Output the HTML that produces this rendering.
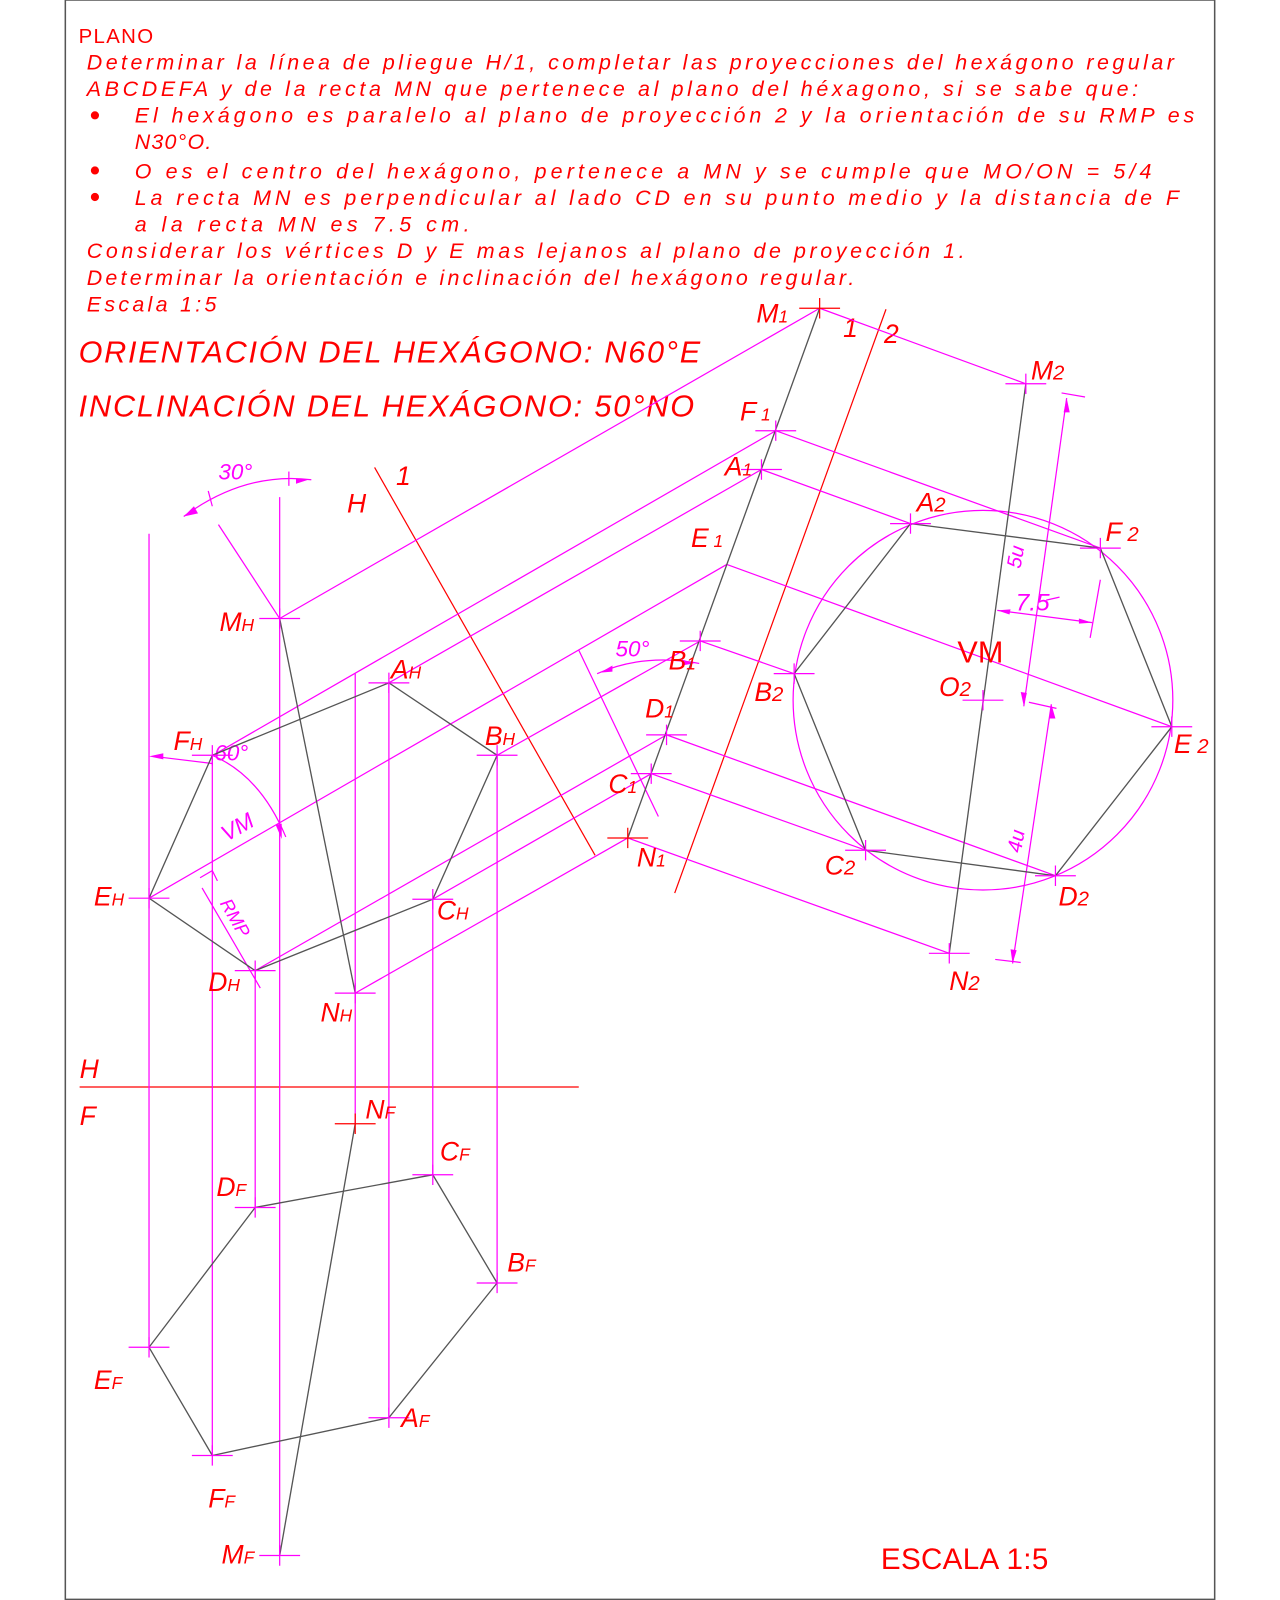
<!DOCTYPE html>
<html><head><meta charset="utf-8"><style>
html,body{margin:0;padding:0;background:#fff;}
svg{display:block;}
text{font-family:"Liberation Sans",sans-serif;font-style:italic;fill:#ff0000;}
.m{stroke:#ff00ff;stroke-width:1.2;fill:none;}
.r{stroke:#ff0000;stroke-width:1.2;fill:none;}
.g{stroke:#555;stroke-width:1.3;fill:none;}
.mt{fill:#ff00ff;}
</style></head><body>
<svg width="1280" height="1600" viewBox="0 0 1254 1567.6" preserveAspectRatio="none" xmlns="http://www.w3.org/2000/svg">
<rect x="64" y="0" width="1126" height="1567" fill="none" stroke="#555" stroke-width="1.5"/>

<!-- header text -->
<text x="77" y="42" font-size="20" style="font-style:normal" textLength="73">PLANO</text>
<g font-size="21">
<text x="85" y="68" textLength="1065">Determinar la línea de pliegue H/1, completar las proyecciones del hexágono regular</text>
<text x="85" y="94" textLength="1030">ABCDEFA y de la recta MN que pertenece al plano del héxagono, si se sabe que:</text>
<text x="132" y="120" textLength="1038">El hexágono es paralelo al plano de proyección 2 y la orientación de su RMP   es</text>
<text x="132" y="146" textLength="75">N30°O.</text>
<text x="132" y="175" textLength="996">O es el centro del hexágono, pertenece a MN y se cumple que MO/ON = 5/4</text>
<text x="132" y="201" textLength="1023">La recta MN es perpendicular al lado CD en su punto medio y la distancia de F</text>
<text x="132" y="227" textLength="328">a la recta MN es 7.5 cm.</text>
<text x="85" y="253" textLength="860">Considerar los vértices D y E mas lejanos al plano de proyección 1.</text>
<text x="85" y="279" textLength="752">Determinar la orientación e inclinación del hexágono regular.</text>
<text x="85" y="305" textLength="127">Escala 1:5</text>
</g>
<circle cx="93" cy="113" r="4" fill="#f00"/>
<circle cx="93" cy="167" r="4" fill="#f00"/>
<circle cx="93" cy="193" r="4" fill="#f00"/>
<text x="77" y="355" font-size="30" textLength="609">ORIENTACIÓN DEL HEXÁGONO: N60°E</text>
<text x="77" y="408" font-size="30" textLength="603">INCLINACIÓN DEL HEXÁGONO: 50°NO</text>
<text x="863" y="1537" font-size="29" style="font-style:normal" textLength="164">ESCALA 1:5</text>

<!-- fold lines -->
<line class="r" x1="78" y1="1065" x2="567" y2="1065"/>
<text x="78" y="1056" font-size="26">H</text>
<text x="78" y="1102" font-size="26">F</text>
<line class="r" x1="367" y1="458" x2="583" y2="838"/>
<text x="340" y="502" font-size="26">H</text>
<text x="388" y="475" font-size="26">1</text>
<line class="r" x1="868" y1="303" x2="661" y2="875"/>
<text x="826" y="330" font-size="26">1</text>
<text x="866" y="336" font-size="26">2</text>

<!-- vertical projectors -->
<g class="m">
<line x1="146" y1="523" x2="146" y2="1320"/>
<line x1="208" y1="740" x2="208" y2="1426"/>
<line x1="250" y1="951" x2="250" y2="1183"/>
<line x1="274" y1="487" x2="274" y2="1524"/>
<line x1="348" y1="660" x2="348" y2="1101"/>
<line x1="381" y1="669" x2="381" y2="1389"/>
<line x1="424" y1="881" x2="424" y2="1151"/>
<line x1="487" y1="740" x2="487" y2="1257"/>
<!-- H to 1 projectors -->
<line x1="274" y1="606" x2="803" y2="302"/>
<line x1="212" y1="738" x2="760" y2="422"/>
<line x1="381" y1="669" x2="746" y2="460"/>
<line x1="146" y1="880" x2="712" y2="553"/>
<line x1="487" y1="740" x2="686" y2="628"/>
<line x1="250" y1="951" x2="653" y2="720"/>
<line x1="424" y1="881" x2="638" y2="758"/>
<line x1="348" y1="973" x2="615" y2="821"/>
<!-- 1 to 2 projectors -->
<line x1="803" y1="302" x2="1005" y2="376"/>
<line x1="760" y1="422" x2="1078" y2="537"/>
<line x1="746" y1="460" x2="892" y2="513"/>
<line x1="712" y1="553" x2="1148" y2="712"/>
<line x1="686" y1="628" x2="778" y2="660"/>
<line x1="653" y1="720" x2="1034" y2="858"/>
<line x1="638" y1="758" x2="848" y2="833"/>
<line x1="615" y1="821" x2="930" y2="934"/>
<!-- circle -->
<circle cx="963" cy="686" r="186"/>
<!-- RMP / angles top view -->
<line x1="274" y1="606" x2="214" y2="514"/>
<path d="M180,506 Q240,462 305,470"/>
<line x1="204" y1="481" x2="208" y2="496"/>
<line x1="283" y1="462" x2="283" y2="476"/>
<line x1="198" y1="870" x2="255" y2="968"/>
<path d="M196,860 L208,853 L213,863"/>
<path d="M208,740 Q255,760 280,820"/>
<line x1="150" y1="741" x2="208" y2="748"/>
<!-- 50 deg -->
<line x1="567" y1="637" x2="645" y2="800"/>
<path d="M585,660 Q630,640 685,650"/>
<!-- dimension lines aux 2 -->
<line x1="1045" y1="390" x2="1003" y2="692"/>
<line x1="1008" y1="688" x2="1035" y2="694"/>
<line x1="1030" y1="690" x2="992" y2="944"/>
<line x1="975" y1="940" x2="1000" y2="943"/>
<line x1="1040" y1="385" x2="1063" y2="389"/>
<line x1="977" y1="598" x2="1070" y2="610"/>
<line x1="1078" y1="568" x2="1068" y2="625"/>
<line x1="1025" y1="588" x2="1038" y2="585"/>
</g>
<g class="mt">
<polygon points="180,506 190,496 194,503"/>
<polygon points="290,469 302,470 290,474"/>
<polygon points="146,741 160,738 160,744"/>
<polygon points="276,822 270,808 276,807"/>
<polygon points="588,659 600,652 600,658"/>
<polygon points="680,650 668,646 668,652"/>
<polygon points="1045,390 1042,404 1048,404"/>
<polygon points="1003,692 1000,678 1006,679"/>
<polygon points="1030,690 1028,704 1034,704"/>
<polygon points="992,944 990,930 996,931"/>
<polygon points="977,598 990,597 989,602"/>
<polygon points="1070,610 1057,606 1057,611"/>
</g>
<g font-size="22" class="mt" style="fill:#ff00ff">
<text x="214" y="470" style="fill:#ff00ff">30°</text>
<text x="210" y="745" style="fill:#ff00ff">60°</text>
<text x="222" y="825" style="fill:#ff00ff;" transform="rotate(-30 222 825)">VM</text>
<text x="215" y="885" font-size="18" style="fill:#ff00ff;" transform="rotate(60 215 885)">RMP</text>
<text x="603" y="643" style="fill:#ff00ff">50°</text>
<text x="995" y="528" font-size="20" style="fill:#ff00ff" transform="rotate(-80 1015 540)">5u</text>
<text x="985" y="832" font-size="20" style="fill:#ff00ff" transform="rotate(-80 995 825)">4u</text>
<text x="995" y="598" font-size="24" style="fill:#ff00ff">7.5</text>
</g>

<!-- gray geometry -->
<g class="g">
<polygon points="208,740 381,669 487,740 424,881 250,951 146,880"/>
<line x1="274" y1="606" x2="348" y2="973"/>
<polygon points="250,1183 424,1151 487,1257 381,1389 208,1426 146,1320"/>
<line x1="348" y1="1101" x2="274" y2="1524"/>
<line x1="803" y1="302" x2="615" y2="821"/>
<polygon points="892,513 1078,537 1148,712 1034,858 848,833 778,660"/>
<line x1="1005" y1="376" x2="930" y2="934"/>
</g>

<!-- crosses -->
<g class="m">
<path d="M254,606h40M274,596v20 M361,669h40M381,659v20 M467,740h40M487,730v20 M404,881h40M424,871v20 M230,951h40M250,941v20 M126,880h40M146,870v20 M188,740h40M208,730v20 M328,973h40M348,963v20"/>
<path d="M230,1183h40M250,1173v20 M404,1151h40M424,1141v20 M467,1257h40M487,1247v20 M361,1389h40M381,1379v20 M188,1426h40M208,1416v20 M126,1320h40M146,1310v20 M254,1524h40M274,1514v20"/>
<path d="M740,422h40M760,412v20 M726,460h40M746,450v20 M666,628h40M686,618v20 M633,720h40M653,710v20 M618,758h40M638,748v20"/>
<path d="M872,513h40M892,503v20 M1058,537h40M1078,527v20 M1128,712h40M1148,702v20 M758,660h40M778,650v20 M828,833h40M848,823v20 M1014,858h40M1034,848v20 M910,934h40M930,924v20 M985,376h40M1005,366v20 M943,686h40M963,676v20"/>
</g>
<g class="r"><path d="M783,302h40M803,292v20 M595,821h40M615,811v20 M328,1101h40M348,1091v20"/></g>

<!-- labels -->
<g font-size="26">
<text x="215" y="618">M<tspan font-size="17">H</tspan></text>
<text x="383" y="665">A<tspan font-size="17">H</tspan></text>
<text x="475" y="730">B<tspan font-size="17">H</tspan></text>
<text x="170" y="735">F<tspan font-size="17">H</tspan></text>
<text x="92" y="887">E<tspan font-size="17">H</tspan></text>
<text x="428" y="901">C<tspan font-size="17">H</tspan></text>
<text x="204" y="971">D<tspan font-size="17">H</tspan></text>
<text x="314" y="1001">N<tspan font-size="17">H</tspan></text>
<text x="358" y="1096">N<tspan font-size="17">F</tspan></text>
<text x="431" y="1137">C<tspan font-size="17">F</tspan></text>
<text x="212" y="1172">D<tspan font-size="17">F</tspan></text>
<text x="497" y="1246">B<tspan font-size="17">F</tspan></text>
<text x="92" y="1361">E<tspan font-size="17">F</tspan></text>
<text x="393" y="1398">A<tspan font-size="17">F</tspan></text>
<text x="204" y="1477">F<tspan font-size="17">F</tspan></text>
<text x="217" y="1532">M<tspan font-size="17">F</tspan></text>
<text x="741" y="316">M<tspan font-size="17">1</tspan></text>
<text x="725" y="412">F<tspan font-size="17"> 1</tspan></text>
<text x="710" y="466">A<tspan font-size="17">1</tspan></text>
<text x="677" y="536">E<tspan font-size="17"> 1</tspan></text>
<text x="655" y="656">B<tspan font-size="17">1</tspan></text>
<text x="632" y="703">D<tspan font-size="17">1</tspan></text>
<text x="596" y="777">C<tspan font-size="17">1</tspan></text>
<text x="624" y="849">N<tspan font-size="17">1</tspan></text>
<text x="1010" y="372">M<tspan font-size="20">2</tspan></text>
<text x="898" y="501">A<tspan font-size="20">2</tspan></text>
<text x="1083" y="530">F<tspan font-size="20"> 2</tspan></text>
<text x="739" y="687">B<tspan font-size="20">2</tspan></text>
<text x="920" y="682">O<tspan font-size="20">2</tspan></text>
<text x="938" y="649" style="font-style:normal" font-size="30">VM</text>
<text x="1150" y="738">E<tspan font-size="20"> 2</tspan></text>
<text x="808" y="857">C<tspan font-size="20">2</tspan></text>
<text x="1037" y="887">D<tspan font-size="20">2</tspan></text>
<text x="930" y="970">N<tspan font-size="20">2</tspan></text>
</g>
</svg>
</body></html>
